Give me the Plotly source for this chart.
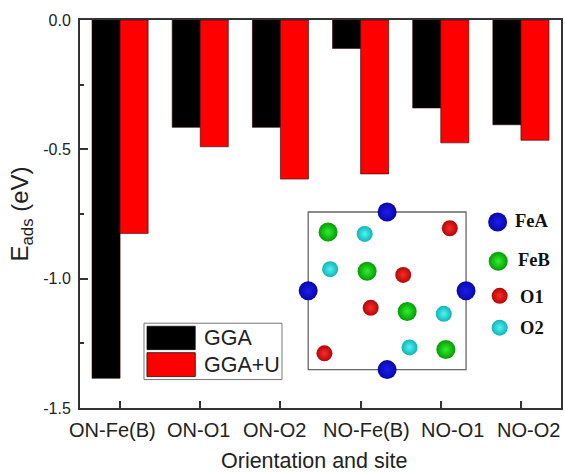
import plotly.graph_objects as go

categories = ["ON-Fe(B)", "ON-O1", "ON-O2", "NO-Fe(B)", "NO-O1", "NO-O2"]
gga = [-1.385, -0.415, -0.415, -0.11, -0.34, -0.405]
gga_u = [-0.825, -0.49, -0.615, -0.595, -0.475, -0.465]
series_names = ["GGA", "GGA+U"]
y_ticks = [0.0, -0.5, -1.0, -1.5]
y_tick_labels = ["0.0", "-0.5", "-1.0", "-1.5"]

fea_x = [0.5, 0.0, 1.0, 0.5]
fea_y = [1.0, 0.5, 0.5, 0.0]
feb_x = [0.126, 0.373, 0.627, 0.872]
feb_y = [0.873, 0.624, 0.369, 0.127]
o1_x = [0.897, 0.602, 0.396, 0.103]
o1_y = [0.897, 0.601, 0.392, 0.103]
o2_x = [0.358, 0.139, 0.859, 0.642]
o2_y = [0.861, 0.637, 0.354, 0.141]
key_names = ["FeA", "FeB", "O1", "O2"]
key_x = [1.20, 1.204, 1.213, 1.213]
key_y = [0.937, 0.688, 0.468, 0.266]
key_label_x = [1.415, 1.43, 1.42, 1.42]
key_label_y = [0.943, 0.695, 0.461, 0.267]

W, H = 565, 474
L, R, T, B = 80.3, 563, 19.5, 408.5
FONT = "Liberation Sans"
label_shift = [-8, -2, -6, 6, 12, 7.5]


def px(x):
    return (x - L) / (R - L)


def py(y):
    return (B - y) / (B - T)


fig = go.Figure()
for name, vals, col in zip(series_names, [gga, gga_u], ["#000000", "#ff0000"]):
    fig.add_trace(go.Bar(x=categories, y=vals, name=name, marker=dict(color=col, line=dict(color="#300000", width=0.6))))

atoms = [
    (fea_x, fea_y, "#0808a8", "#1c1cf0", 19),
    (feb_x, feb_y, "#059a05", "#30f030", 19),
    (o1_x, o1_y, "#b00808", "#ff2a2a", 16),
    (o2_x, o2_y, "#10b4b4", "#50f4f4", 16),
]
for i, (xs, ys, edge, centre, s) in enumerate(atoms):
    fig.add_trace(go.Scatter(
        x=xs + [key_x[i]], y=ys + [key_y[i]], mode="markers", xaxis="x2", yaxis="y2", cliponaxis=False,
        marker=dict(size=s, color=edge, line=dict(width=0), gradient=dict(type="radial", color=centre)),
        showlegend=False,
    ))

annotations = [
    dict(x=lx, y=ly, xref="x2", yref="y2", text="<b>%s</b>" % n, showarrow=False,
         font=dict(family="Liberation Serif", size=18.5, color="#111"), xanchor="center", yanchor="middle")
    for n, lx, ly in zip(key_names, key_label_x, key_label_y)
]
for c, dx in zip(categories, label_shift):
    annotations.append(dict(x=c, y=py(431), xref="x", yref="paper", xshift=dx, text=c, showarrow=False,
                            xanchor="center", yanchor="middle", font=dict(family=FONT, size=20, color="#222")))
annotations.append(dict(x=px(315), y=py(462), xref="paper", yref="paper", text="Orientation and site", showarrow=False,
                        xanchor="center", yanchor="middle", font=dict(family=FONT, size=21.5, color="#222")))
shapes = [
    dict(type="rect", xref="x2", yref="y2", x0=0, x1=1, y0=0, y1=1, layer="below",
         line=dict(color="#666", width=1.3), fillcolor="rgba(0,0,0,0)"),
    dict(type="rect", xref="paper", yref="paper", x0=px(144.5), x1=px(283), y0=py(380), y1=py(323.5),
         line=dict(color="#777", width=1), fillcolor="white"),
    dict(type="rect", xref="paper", yref="paper", x0=px(147.5), x1=px(196), y0=py(350), y1=py(326.5),
         line=dict(color="#000", width=0.6), fillcolor="#000"),
    dict(type="rect", xref="paper", yref="paper", x0=px(147.5), x1=px(196), y0=py(377), y1=py(353),
         line=dict(color="#300000", width=0.8), fillcolor="#ff0000"),
]
for name, yp in zip(series_names, [338, 365]):
    annotations.append(dict(x=px(203), y=py(yp), xref="paper", yref="paper", text=name, showarrow=False,
                            xanchor="left", yanchor="middle", font=dict(family=FONT, size=21.5, color="#222")))

fig.update_layout(
    width=W, height=H, autosize=False,
    margin=dict(l=L, r=W - R, t=T, b=H - B, pad=0),
    paper_bgcolor="white", plot_bgcolor="white",
    barmode="group", bargap=0.3, bargroupgap=0,
    showlegend=False, shapes=shapes, annotations=annotations,
    font=dict(family=FONT, color="#222"),
    xaxis=dict(range=[-0.5, 5.5], type="category", categoryorder="array", categoryarray=categories,
               ticks="inside", ticklen=7, tickwidth=2, tickcolor="#333", side="bottom", anchor="y",
               showline=True, mirror=True, linecolor="#333", linewidth=2, showgrid=False, zeroline=False,
               showticklabels=False),
    yaxis=dict(range=[-1.5, 0], tickvals=y_ticks, ticktext=y_tick_labels,
               ticks="inside", ticklen=8, tickwidth=2, tickcolor="#333", ticklabelstandoff=4,
               minor=dict(dtick=0.25, tick0=0, ticks="inside", ticklen=4, tickwidth=2, tickcolor="#333", showgrid=False),
               showline=True, mirror=True, linecolor="#333", linewidth=2, showgrid=False, zeroline=False,
               tickfont=dict(size=16), title=dict(text="E<sub>ads</sub> (eV)", font=dict(size=24), standoff=8)),
    xaxis2=dict(domain=[px(293.46), px(563)], range=[-0.1, 1.6015], anchor="y2", visible=False),
    yaxis2=dict(domain=[py(385.8), py(196.2)], range=[-0.1, 1.1], anchor="x2", visible=False),
)
fig.write_html("out.html", config={"displayModeBar": False}, post_script="document.body.style.margin='0';")
